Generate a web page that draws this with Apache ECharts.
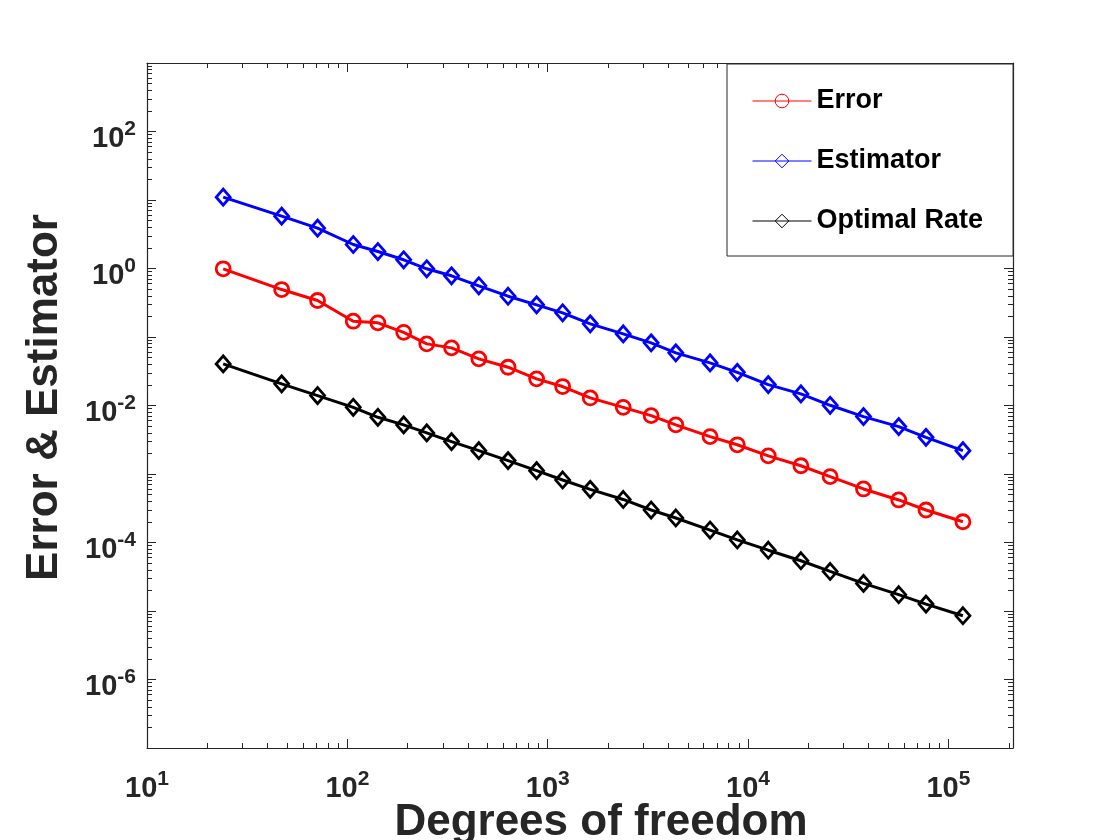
<!DOCTYPE html>
<html>
<head>
<meta charset="utf-8">
<script src="https://cdn.jsdelivr.net/npm/echarts@6/dist/echarts.min.js"></script>
<style>
html, body { margin: 0; padding: 0; background: #fff; }
#main { width: 1120px; height: 840px; }
</style>
</head>
<body>
<div id="main"></div>
<script>
// degrees of freedom (x) and the three curves
var dofs = [24, 47, 71, 107, 142, 191, 249, 331, 453, 634, 880, 1187, 1630, 2381, 3282,
            4358, 6461, 8835, 12610, 18350, 25680, 37670, 56480, 77260, 118100];
var errorVals = [0.99, 0.493, 0.341, 0.170, 0.161, 0.117, 0.0794, 0.0694, 0.048, 0.0362,
                 0.0245, 0.0189, 0.0129, 0.0094, 0.00712, 0.00521, 0.00351, 0.00267, 0.00184,
                 0.00132, 0.000915, 0.000605, 0.000418, 0.000298, 0.000201];
var estimatorVals = [11.0, 5.81, 3.88, 2.24, 1.77, 1.34, 0.99, 0.782, 0.559, 0.394, 0.295,
                     0.2255, 0.1557, 0.111, 0.0821, 0.0587, 0.0419, 0.0305, 0.0202, 0.01477,
                     0.01007, 0.00689, 0.00492, 0.00343, 0.00219];
var optimalVals = [0.0405, 0.0207, 0.01397, 0.00941, 0.00673, 0.00521, 0.00398, 0.00297,
                   0.00219, 0.00157, 0.00112, 0.000818, 0.000597, 0.000425, 0.000298,
                   0.000228, 0.000152, 0.000109, 7.72e-5, 5.42e-5, 3.78e-5, 2.53e-5,
                   1.73e-5, 1.26e-5, 8.53e-6];

// axis ticks and labels
var xLabelTicks = [10, 100, 1000, 10000, 100000];
var yLabelTicks = [1e-6, 1e-4, 1e-2, 1, 100];
var xMajorTicks = [10, 100, 1000, 10000, 100000];
var yMajorTicks = [1e-7, 1e-6, 1e-5, 1e-4, 1e-3, 1e-2, 1e-1, 1, 10, 100, 1000];
var xRange = [10, 2.1e5];
var yRange = [1e-7, 1000];

function minorTicks(lo, hi) {
	var out = [];
	for (var p = Math.floor(Math.log10(lo)); p <= Math.ceil(Math.log10(hi)); p++) {
		for (var k = 2; k <= 9; k++) {
			var v = k * Math.pow(10, p);
			if (v > lo && v < hi) out.push(Number(v.toPrecision(3)));
		}
	}
	return out;
}
var xMinorTicks = minorTicks(xRange[0], xRange[1]);
var yMinorTicks = minorTicks(yRange[0], yRange[1]);

var FONT = 'Liberation Sans, Arial, Helvetica, sans-serif';
var AXIS_COLOR = '#262626';

function powLabel(v) {
	var e = Math.round(Math.log10(v));
	return '{b|10}{s|' + e + '}';
}
var labelRich = {
	b: { fontSize: 29, fontWeight: 'bold', fontFamily: FONT, color: AXIS_COLOR },
	s: { fontSize: 21, fontWeight: 'bold', fontFamily: FONT, color: AXIS_COLOR, verticalAlign: 'top', padding: [0, 0, 18, 0] }
};

function makeAxis(kind, pos, ticks, len, withLine, labels) {
	var ax = {
		type: 'log',
		logBase: 10,
		position: pos,
		min: kind === 'x' ? xRange[0] : yRange[0],
		max: kind === 'x' ? xRange[1] : yRange[1],
		axisLine: { show: withLine, onZero: false, lineStyle: { color: AXIS_COLOR, width: 1.2 } },
		axisTick: { show: true, inside: true, length: len, customValues: ticks,
			lineStyle: { color: AXIS_COLOR, width: 1 } },
		splitLine: { show: false },
		minorTick: { show: false },
		axisLabel: { show: false }
	};
	if (labels) {
		ax.axisLabel = {
			show: true,
			customValues: labels,
			formatter: powLabel,
			rich: labelRich,
			margin: kind === 'x' ? 21 : 11,
			padding: kind === 'x' ? 0 : [14, 0, 0, 0]
		};
	}
	return ax;
}

var xAxes = [
	makeAxis('x', 'bottom', xMajorTicks, 9, true, xLabelTicks),
	makeAxis('x', 'bottom', xMinorTicks, 5, false, null),
	makeAxis('x', 'top', xMajorTicks, 9, true, null),
	makeAxis('x', 'top', xMinorTicks, 5, false, null)
];
xAxes[0].name = 'Degrees of freedom';
xAxes[0].nameLocation = 'middle';
xAxes[0].nameGap = 53;
xAxes[0].nameMoveOverlap = false;
xAxes[0].nameTextStyle = { fontSize: 44, fontWeight: 'bold', fontFamily: FONT, color: AXIS_COLOR, padding: [0, 0, 0, 42] };

var yAxes = [
	makeAxis('y', 'left', yMajorTicks, 9, true, yLabelTicks),
	makeAxis('y', 'left', yMinorTicks, 5, false, null),
	makeAxis('y', 'right', yMajorTicks, 9, true, null),
	makeAxis('y', 'right', yMinorTicks, 5, false, null)
];
yAxes[0].name = 'Error & Estimator';
yAxes[0].nameLocation = 'middle';
yAxes[0].nameGap = 80;
yAxes[0].nameTextStyle = { fontSize: 44, fontWeight: 'bold', fontFamily: FONT, color: AXIS_COLOR, padding: [0, 0, 0, 16] };

function pairs(ys) {
	var out = [];
	for (var i = 0; i < dofs.length; i++) out.push([dofs[i], ys[i]]);
	return out;
}

function lineSeries(name, ys, color, symbol, size) {
	return {
		name: name,
		type: 'line',
		data: pairs(ys),
		color: color,
		symbol: symbol,
		symbolSize: size,
		showAllSymbol: true,
		lineStyle: { color: color, width: 3 },
		itemStyle: { color: 'rgba(255,255,255,0)', borderColor: color, borderWidth: 2.8 },
		emphasis: { disabled: true },
		z: 3
	};
}

var myChart = echarts.init(document.getElementById('main'));
var option = {
	animation: false,
	backgroundColor: '#ffffff',
	grid: { left: 147, right: 107, top: 63, bottom: 92, containLabel: false, outerBoundsMode: 'none' },
	xAxis: xAxes,
	yAxis: yAxes,
	legend: {
		orient: 'vertical',
		left: 727,
		top: 64,
		padding: [22, 30, 20, 25],
		itemGap: 30,
		itemWidth: 59,
		itemHeight: 17,
		backgroundColor: '#ffffff',
		borderColor: AXIS_COLOR,
		borderWidth: 1,
		lineStyle: { width: 1 },
		itemStyle: { borderWidth: 1 },
		textStyle: { fontSize: 27, fontWeight: 'bold', fontFamily: FONT, color: '#000', lineHeight: 30 },
		data: ['Error', 'Estimator', 'Optimal Rate']
	},
	series: [
		lineSeries('Error', errorVals, '#ff0000', 'circle', 14),
		lineSeries('Estimator', estimatorVals, '#0000ff', 'diamond', [14, 16]),
		lineSeries('Optimal Rate', optimalVals, '#000000', 'diamond', [14, 16])
	]
};
myChart.setOption(option);
</script>
</body>
</html>
